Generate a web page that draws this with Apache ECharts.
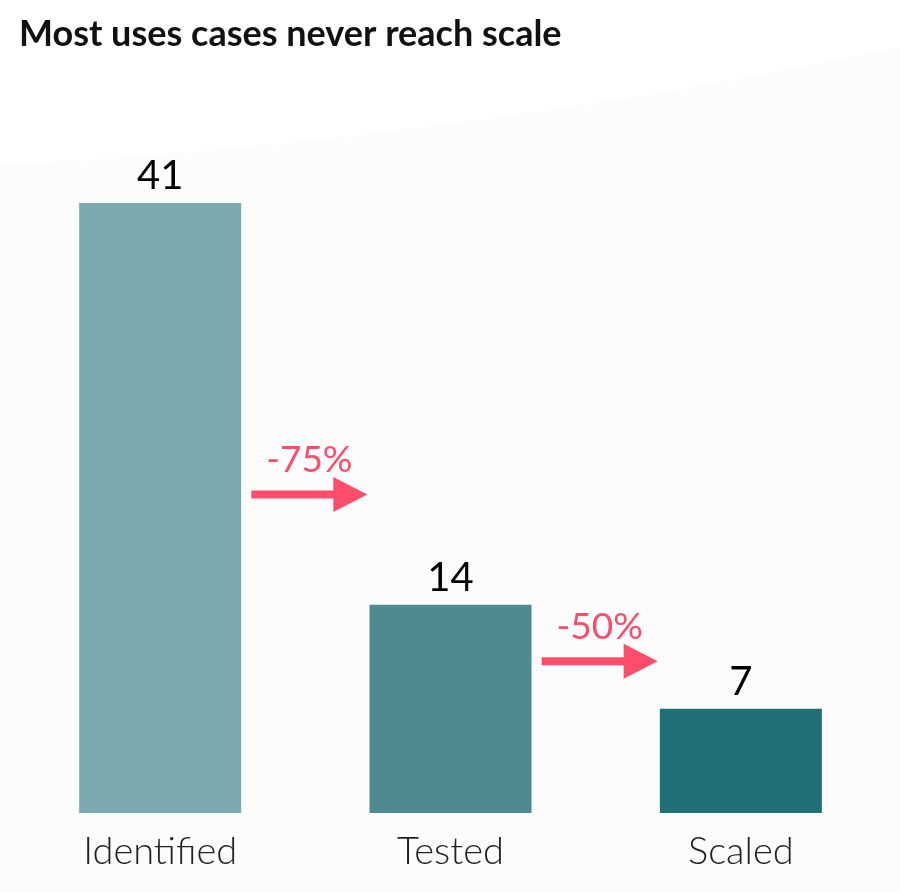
<!DOCTYPE html>
<html>
    <head>
        <meta charset="utf-8">
        <title>Most uses cases never reach scale</title>
        <script src="https://cdn.jsdelivr.net/npm/echarts@6/dist/echarts.min.js"></script>
        <style>
            html, body { margin: 0; padding: 0; background: #fff; }
            #chart1 { width: 900px; height: 892px; }
        </style>
    </head>
    <body>
        <div id="chart1"></div>
    </body>

    <script type="text/javascript">
        // data
        var stages = ['Identified', 'Tested', 'Scaled'];
        var useCases = [41, 14, 7];
        var barColors = ['#7aa9ae', '#4f8a91', '#216f76'];
        // drop between stage i and i+1, drawn at height arrowLevel[i]
        var dropLabels = ['-75%', '-50%'];
        var arrowLevel = [21.4, 10.2];

        var pink = '#fd4d6d';

        var myChart1 = echarts.init(document.getElementById('chart1'));

        var arrowData = dropLabels.map(function (t, i) {
            return [i, arrowLevel[i], t];
        });

        myChart1.setOption({
            backgroundColor: '#fcfcfc',
            animation: false,
            graphic: [{
                // faint white curve in the top of the background
                type: 'circle',
                z: -10,
                silent: true,
                shape: { cx: -300, cy: -5614, r: 5787 },
                style: { fill: '#ffffff' }
            }],
            title: {
                text: 'Most uses cases never reach scale',
                left: 14,
                top: 11,
                textStyle: {
                    fontFamily: 'Lato',
                    fontSize: 36,
                    fontWeight: 'bold',
                    color: '#111'
                }
            },
            grid: { left: 15, right: 14, top: 203, bottom: 79 },
            xAxis: {
                type: 'category',
                data: stages,
                axisLine: { show: false },
                axisTick: { show: false },
                axisLabel: {
                    margin: 20,
                    fontFamily: 'Lato',
                    fontSize: 38,
                    fontWeight: 300,
                    color: '#222'
                }
            },
            yAxis: {
                type: 'value',
                min: 0,
                max: 41,
                show: false,
                splitLine: { show: false }
            },
            series: [{
                type: 'bar',
                barWidth: 162,
                data: useCases.map(function (v, i) {
                    return { value: v, itemStyle: { color: barColors[i] } };
                }),
                label: {
                    show: true,
                    position: 'top',
                    distance: 7,
                    fontFamily: 'Lato',
                    fontSize: 40,
                    color: '#000'
                }
            }, {
                type: 'custom',
                data: arrowData,
                z: 5,
                renderItem: function (params, api) {
                    var i = api.value(0);
                    var a = api.coord([i, api.value(1)]);
                    var b = api.coord([i + 1, api.value(1)]);
                    var cx = (a[0] + b[0]) / 2 + 4;
                    var cy = a[1];
                    var half = 58, head = 34, hh = 17.5, sh = 4;
                    return {
                        type: 'group',
                        children: [{
                            type: 'polygon',
                            shape: {
                                points: [
                                    [cx - half, cy - sh],
                                    [cx + half - head, cy - sh],
                                    [cx + half - head, cy - hh],
                                    [cx + half, cy],
                                    [cx + half - head, cy + hh],
                                    [cx + half - head, cy + sh],
                                    [cx - half, cy + sh]
                                ]
                            },
                            style: { fill: pink }
                        }, {
                            type: 'text',
                            style: {
                                text: arrowData[params.dataIndex][2],
                                x: cx,
                                y: cy - 16,
                                align: 'center',
                                verticalAlign: 'bottom',
                                fontFamily: 'Lato',
                                fontSize: 37,
                                fill: pink
                            }
                        }]
                    };
                }
            }]
        });
    </script>

</html>
